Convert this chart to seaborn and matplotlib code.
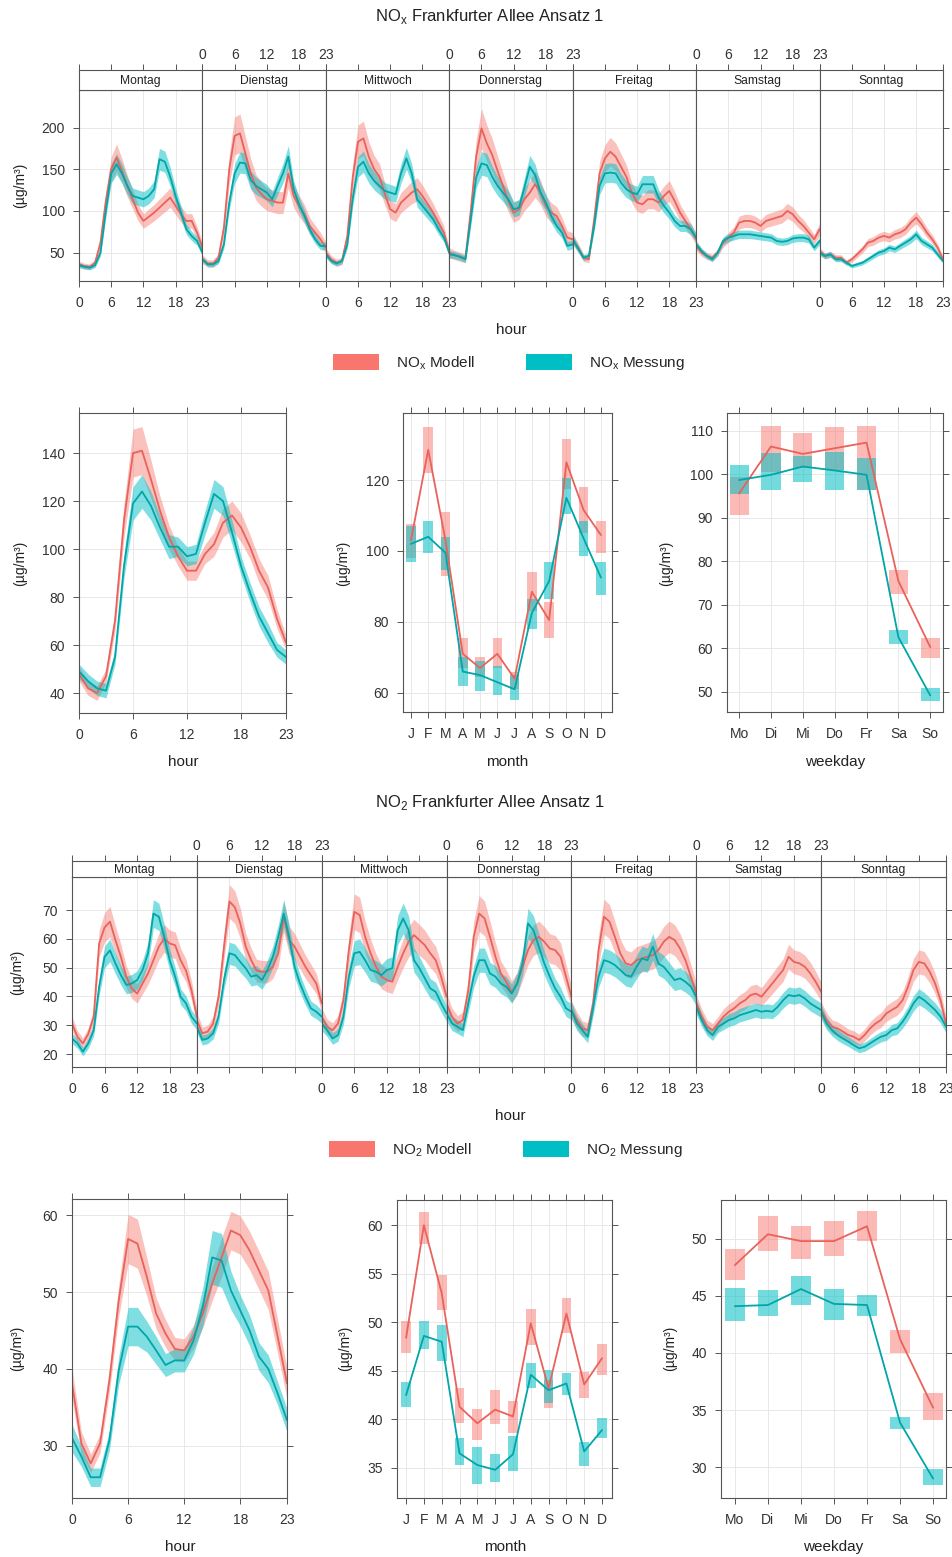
import numpy as np
import pandas as pd
import matplotlib
matplotlib.use("Agg")
import matplotlib.pyplot as plt
from matplotlib.patches import Patch
import seaborn as sns

# ----------------------------------------------------------------
# data
# ----------------------------------------------------------------
hours = list(range(24))
day_names = ["Montag", "Dienstag", "Mittwoch", "Donnerstag", "Freitag", "Samstag", "Sonntag"]
month_labels = ["J", "F", "M", "A", "M", "J", "J", "A", "S", "O", "N", "D"]
weekday_labels = ["Mo", "Di", "Mi", "Do", "Fr", "Sa", "So"]

# NOx, hour of day for each weekday (Mo..So)
nox_week_mod = [
    [36, 34, 33, 38, 62, 112, 150, 164, 148, 130, 114, 98, 88, 93, 98, 104, 110, 116, 106, 96, 88, 88, 74, 56],
    [42, 37, 37, 44, 80, 150, 190, 193, 169, 145, 128, 120, 114, 112, 110, 110, 145, 118, 106, 96, 82, 74, 66, 56],
    [50, 42, 38, 40, 70, 140, 183, 187, 165, 150, 141, 120, 102, 98, 110, 116, 122, 126, 118, 108, 98, 86, 74, 50],
    [50, 47, 45, 43, 100, 165, 199, 181, 167, 148, 130, 112, 98, 102, 114, 122, 132, 122, 106, 98, 94, 82, 68, 66],
    [66, 56, 44, 42, 90, 145, 163, 171, 165, 153, 141, 122, 110, 108, 114, 114, 110, 118, 124, 112, 98, 88, 78, 66],
    [58, 50, 46, 44, 50, 62, 68, 74, 86, 88, 88, 86, 82, 88, 90, 92, 94, 100, 96, 88, 82, 74, 66, 78],
    [52, 46, 48, 44, 44, 38, 42, 48, 54, 62, 64, 68, 70, 68, 72, 74, 78, 86, 92, 84, 74, 66, 56, 42],
]
nox_week_mes = [
    [35, 33, 32, 35, 50, 100, 145, 156, 145, 130, 118, 116, 114, 118, 126, 162, 159, 141, 118, 98, 78, 70, 64, 50],
    [42, 36, 36, 40, 60, 110, 145, 158, 157, 137, 130, 126, 122, 114, 130, 145, 165, 126, 108, 94, 78, 66, 58, 58],
    [48, 40, 37, 40, 60, 115, 153, 159, 145, 136, 130, 124, 122, 120, 145, 163, 145, 114, 106, 98, 90, 78, 68, 50],
    [48, 47, 45, 42, 90, 140, 157, 155, 141, 130, 122, 114, 102, 104, 128, 153, 143, 122, 110, 94, 82, 74, 58, 60],
    [66, 55, 44, 46, 82, 130, 145, 146, 145, 134, 126, 122, 120, 132, 132, 132, 116, 106, 98, 88, 82, 82, 78, 68],
    [60, 52, 46, 42, 50, 64, 68, 70, 72, 72, 72, 71, 70, 69, 68, 64, 63, 64, 67, 68, 68, 66, 56, 64],
    [50, 46, 48, 42, 42, 38, 34, 36, 38, 42, 46, 50, 52, 56, 54, 58, 62, 66, 72, 64, 60, 56, 48, 40],
]
# relative half width of the confidence band, per day
nox_week_band_mod = [0.10, 0.12, 0.11, 0.12, 0.10, 0.09, 0.08]
nox_week_band_mes = [0.08, 0.08, 0.08, 0.09, 0.08, 0.07, 0.07]

# NO2, hour of day for each weekday
no2_week_mod = [
    [30.6, 26.0, 23.7, 27.0, 33.0, 58.4, 64.0, 66.0, 59.6, 53.8, 46.9, 42.8, 41.0, 44.5, 48.0, 52.6, 57.3, 60.2, 58.4, 57.8, 52.6, 49.0, 42.2, 33.0],
    [31.8, 27.2, 27.8, 30.6, 39.9, 57.3, 73.0, 71.0, 65.4, 57.3, 52.6, 49.0, 48.6, 48.6, 50.3, 55.0, 67.7, 59.6, 57.3, 53.8, 50.3, 47.4, 44.5, 37.6],
    [33.0, 29.5, 28.3, 30.6, 38.7, 56.1, 69.4, 68.3, 60.7, 55.0, 50.3, 46.9, 45.7, 45.1, 50.3, 55.0, 59.0, 61.3, 59.6, 57.8, 55.0, 52.6, 46.9, 39.9],
    [37.6, 33.0, 30.6, 31.8, 42.2, 60.7, 68.8, 67.1, 60.7, 53.8, 48.0, 45.1, 41.6, 44.5, 50.3, 56.1, 59.6, 60.7, 59.0, 56.7, 56.1, 53.8, 46.9, 39.9],
    [35.3, 31.8, 28.9, 28.3, 37.6, 56.1, 67.7, 66.0, 60.7, 55.0, 51.5, 50.9, 52.6, 53.2, 53.8, 54.4, 56.1, 59.0, 60.7, 59.6, 56.7, 52.6, 46.9, 41.0],
    [37.6, 33.0, 29.5, 28.3, 30.6, 33.0, 34.7, 35.9, 37.6, 38.7, 40.5, 41.0, 39.9, 42.2, 44.5, 46.9, 49.2, 53.8, 52.0, 51.5, 50.3, 48.0, 45.1, 41.6],
    [35.3, 31.8, 29.5, 28.9, 27.8, 26.6, 26.0, 24.9, 26.6, 28.9, 30.6, 31.8, 34.1, 35.3, 36.4, 38.7, 43.4, 49.2, 52.0, 51.5, 48.6, 44.5, 38.7, 30.6],
]
no2_week_mes = [
    [25.4, 23.7, 20.8, 23.7, 28.3, 43.4, 53.8, 56.0, 51.5, 47.4, 44.0, 44.5, 45.7, 49.2, 55.0, 68.8, 67.7, 60.7, 52.6, 46.9, 39.9, 37.6, 33.0, 30.6],
    [29.5, 24.9, 25.4, 27.2, 33.0, 45.7, 55.0, 54.4, 52.0, 49.8, 46.9, 47.4, 45.7, 49.2, 53.8, 60.7, 68.8, 60.7, 50.3, 44.5, 39.9, 35.9, 34.7, 33.0],
    [30.6, 28.3, 25.4, 26.6, 33.0, 46.9, 55.0, 55.5, 52.6, 49.2, 48.6, 47.4, 49.2, 49.8, 63.0, 67.1, 63.0, 52.6, 49.8, 46.3, 42.8, 41.6, 37.6, 34.1],
    [34.1, 30.6, 29.5, 28.3, 37.6, 46.9, 52.6, 52.6, 48.0, 46.9, 44.5, 43.4, 41.0, 44.5, 51.5, 65.4, 63.0, 57.3, 51.5, 46.9, 42.8, 39.9, 35.9, 34.7],
    [35.3, 30.6, 28.3, 26.0, 36.4, 46.9, 52.6, 52.0, 50.9, 49.2, 47.4, 46.9, 50.3, 53.2, 52.6, 57.3, 51.5, 50.3, 48.0, 45.7, 46.3, 45.1, 43.4, 39.9],
    [36.4, 31.8, 28.3, 26.6, 29.5, 30.6, 31.8, 32.4, 33.5, 34.1, 34.7, 35.3, 34.7, 35.0, 34.7, 36.4, 38.7, 40.5, 40.1, 40.5, 39.3, 37.6, 36.4, 35.3],
    [34.7, 30.6, 28.3, 26.6, 25.4, 24.3, 23.1, 22.0, 22.5, 23.7, 24.9, 26.0, 26.6, 28.3, 28.9, 31.2, 34.1, 37.6, 39.9, 38.7, 37.0, 35.3, 33.0, 29.5],
]
no2_week_band_mod = [0.08, 0.08, 0.09, 0.09, 0.09, 0.08, 0.08]
no2_week_band_mes = [0.07, 0.07, 0.08, 0.08, 0.08, 0.07, 0.07]

# NOx, mean diurnal cycle
nox_hour_mod = [48, 42, 40, 47, 70, 112, 140, 141, 129, 116, 105, 97, 91, 91, 98, 102, 111, 114, 109, 101, 91, 84, 71, 61]
nox_hour_mod_ci = [3, 3, 3, 3, 4, 7, 10, 10, 8, 6, 5, 4, 4, 4, 4, 5, 6, 6, 6, 5, 5, 5, 4, 3]
nox_hour_mes = [49, 45, 42, 41, 55, 93, 119, 124, 118, 109, 101, 101, 97, 98, 111, 123, 120, 107, 93, 82, 72, 65, 58, 55]
nox_hour_mes_ci = [3, 3, 3, 3, 3, 5, 7, 7, 6, 5, 5, 4, 4, 4, 5, 6, 6, 5, 4, 4, 4, 4, 3, 3]

# NO2, mean diurnal cycle
no2_hour_mod = [38.1, 30.3, 27.7, 30.3, 38.5, 48.9, 56.9, 56.3, 52.0, 47.2, 44.6, 42.6, 42.4, 44.2, 47.2, 51.1, 54.5, 58.0, 57.4, 55.4, 52.8, 50.2, 44.2, 38.1]
no2_hour_mod_ci = [2, 1.5, 1.2, 1.2, 1.5, 2, 3.2, 3.2, 2.5, 2, 1.8, 1.5, 1.5, 1.5, 1.8, 2.2, 2.5, 2.5, 2.5, 2.5, 2.5, 2.5, 2.2, 2]
no2_hour_mes = [31.0, 28.6, 25.9, 25.9, 30.7, 39.8, 45.5, 45.5, 44.2, 42.4, 40.5, 41.1, 41.1, 43.7, 48.1, 54.5, 54.1, 50.2, 47.6, 45.0, 41.6, 40.0, 36.8, 33.3]
no2_hour_mes_ci = [1.8, 1.3, 1.2, 1.2, 1.3, 1.8, 2.5, 2.5, 2, 1.8, 1.5, 1.5, 1.5, 1.8, 2.5, 3.5, 3.5, 2.5, 2, 2, 1.8, 1.8, 1.5, 1.5]

# NOx, month
nox_mon_mod = [103, 128.5, 103, 71, 67, 71, 64, 88.5, 80.5, 125, 111.5, 104.5]
nox_mon_mod_lo = [98, 122, 93, 67, 64.5, 67, 61, 83, 75.5, 117.5, 105, 99.5]
nox_mon_mod_hi = [107.5, 135, 111, 75.5, 70, 75.5, 66, 94, 85.5, 131.5, 118, 108.5]
nox_mon_mes = [102, 104, 99.5, 66, 65, 63, 61, 82.5, 91.5, 115, 103.5, 92.5]
nox_mon_mes_lo = [97, 99.5, 94.5, 62, 60.5, 59.5, 58, 78, 86.5, 110.5, 98.5, 87.5]
nox_mon_mes_hi = [107, 108.5, 104, 70, 69, 67.5, 65, 86.5, 97, 120.5, 108.5, 97]

# NOx, weekday
nox_wd_mod = [95.6, 106.4, 104.7, 106, 107.3, 75.5, 60.3]
nox_wd_mod_lo = [90.7, 100.6, 101.4, 101, 96.4, 72.6, 57.7]
nox_wd_mod_hi = [99.5, 111, 109.6, 110.8, 111, 78, 62.5]
nox_wd_mes = [98.7, 99.9, 101.8, 100.9, 99.9, 62.6, 49.2]
nox_wd_mes_lo = [95.6, 96.3, 98.3, 96.4, 96.4, 61.1, 47.9]
nox_wd_mes_hi = [102.2, 104.9, 104.2, 105.2, 103.7, 64.2, 50.8]

# NO2, month
no2_mon_mod = [48.4, 60, 53, 41.3, 39.6, 41, 40.3, 49.9, 43.2, 50.9, 43.6, 46.3]
no2_mon_mod_lo = [46.8, 58.1, 51.3, 39.6, 37.9, 39.5, 38.6, 47.7, 41.2, 48.9, 42.2, 44.6]
no2_mon_mod_hi = [50.1, 61.4, 54.9, 43.2, 41.1, 43, 41.9, 51.4, 44.1, 52.5, 44.9, 47.8]
no2_mon_mes = [42.5, 48.6, 48, 36.5, 35.3, 34.8, 36.4, 44.6, 43, 43.7, 36.7, 38.9]
no2_mon_mes_lo = [41.3, 47.2, 46, 35.3, 33.3, 33.5, 34.7, 43.2, 41.7, 42.5, 35.2, 38.1]
no2_mon_mes_hi = [43.8, 50.1, 49.7, 38.1, 37.2, 36.4, 38.3, 45.8, 45.1, 44.8, 37.7, 40.1]

# NO2, weekday
no2_wd_mod = [47.7, 50.4, 49.8, 49.8, 51.1, 41.2, 35.2]
no2_wd_mod_lo = [46.4, 48.9, 48.2, 48.5, 49.8, 40, 34.1]
no2_wd_mod_hi = [49.1, 52, 51.1, 51.6, 52.4, 42, 36.5]
no2_wd_mes = [44.1, 44.2, 45.6, 44.3, 44.2, 33.9, 29]
no2_wd_mes_lo = [42.8, 43.2, 44.2, 42.9, 43.2, 33.3, 28.4]
no2_wd_mes_hi = [45.7, 45.5, 46.7, 45.6, 45.1, 34.4, 29.8]

# ----------------------------------------------------------------
# style
# ----------------------------------------------------------------
sns.set_theme(style="white")
plt.rcParams["font.family"] = ["Liberation Sans", "DejaVu Sans"]

W, H = 952, 1557
RED, TEAL = "#F8766D", "#00BFC4"
RED_LINE, TEAL_LINE = "#E9625B", "#00A6A8"
EDGE, GRID, TXT = "#555555", "#E8E8E8", "#333333"
UNIT = "(µg/m³)"
TICK_FS = 10

fig = plt.figure(figsize=(W / 100, H / 100), dpi=100)


def frac(l, t, r, b):
    # pixel box -> figure fraction
    return [l / W, 1 - b / H, (r - l) / W, (b - t) / H]


def style_axes(ax):
    for s in ax.spines.values():
        s.set_color(EDGE)
        s.set_linewidth(0.8)
    ax.tick_params(direction="out", length=4, width=0.7, color=EDGE,
                   labelsize=TICK_FS, labelcolor=TXT)
    ax.tick_params(axis="x", pad=7)
    ax.tick_params(axis="y", pad=6)
    ax.grid(True, color=GRID, linewidth=0.7)
    ax.set_axisbelow(True)


def draw_line(ax, x, y, color):
    df = pd.DataFrame({"x": x, "y": y})
    sns.lineplot(data=df, x="x", y="y", ax=ax, color=color, linewidth=1.3, errorbar=None)
    ax.set_xlabel("")
    ax.set_ylabel("")


def week_panel(top, bottom, left, right, strip_top, mod, mes, band_mod, band_mes, ylim, yticks):
    span = (right - left) / 7
    for d in range(7):
        l = left + d * span
        r = l + span
        ax = fig.add_axes(frac(l, top, r, bottom))
        style_axes(ax)
        m = np.array(mod[d], dtype=float)
        s = np.array(mes[d], dtype=float)
        ax.fill_between(hours, m * (1 - band_mod[d]), m * (1 + band_mod[d]), color=RED, alpha=0.45, linewidth=0)
        ax.fill_between(hours, s * (1 - band_mes[d]), s * (1 + band_mes[d]), color=TEAL, alpha=0.5, linewidth=0)
        draw_line(ax, hours, m, RED_LINE)
        draw_line(ax, hours, s, TEAL_LINE)
        ax.set_xlim(0, 23)
        ax.set_ylim(*ylim)
        ax.set_xticks([0, 6, 12, 18, 23])
        ax.set_yticks(yticks)
        ax.tick_params(axis="x", bottom=True, top=False, labelbottom=(d % 2 == 0))
        ax.tick_params(axis="y", left=(d == 0), labelleft=(d == 0), right=(d == 6), labelright=False)
        if d == 6:
            ax.yaxis.set_ticks_position("right")
            ax.tick_params(axis="y", labelright=False)

        st = fig.add_axes(frac(l, strip_top, r, top))
        for sp in st.spines.values():
            sp.set_color(EDGE)
            sp.set_linewidth(0.8)
        st.set_xlim(0, 23)
        st.set_ylim(0, 1)
        st.set_yticks([])
        st.set_xticks([0, 6, 12, 18, 23])
        st.xaxis.set_ticks_position("top")
        st.tick_params(axis="x", direction="out", length=4, width=0.7, color=EDGE,
                       labelsize=TICK_FS, labelcolor=TXT, pad=2,
                       top=True, bottom=False, labeltop=(d % 2 == 1), labelbottom=False)
        st.text(11.5, 0.45, day_names[d], ha="center", va="center", fontsize=8.7, color="#222222")


def hour_panel(box, mod, mod_ci, mes, mes_ci, ylim, yticks):
    ax = fig.add_axes(frac(*box))
    style_axes(ax)
    m = np.array(mod, dtype=float)
    s = np.array(mes, dtype=float)
    ax.fill_between(hours, m - np.array(mod_ci), m + np.array(mod_ci), color=RED, alpha=0.45, linewidth=0)
    ax.fill_between(hours, s - np.array(mes_ci), s + np.array(mes_ci), color=TEAL, alpha=0.5, linewidth=0)
    draw_line(ax, hours, m, RED_LINE)
    draw_line(ax, hours, s, TEAL_LINE)
    ax.set_xlim(0, 23)
    ax.set_ylim(*ylim)
    ax.set_xticks([0, 6, 12, 18, 23])
    ax.set_yticks(yticks)
    ax.tick_params(top=True, right=True, bottom=True, left=True, labeltop=False, labelright=False)
    return ax


def cat_panel(box, labels, mod, mod_lo, mod_hi, mes, mes_lo, mes_hi, width, xlim, ylim, yticks):
    ax = fig.add_axes(frac(*box))
    style_axes(ax)
    x = list(range(1, len(labels) + 1))
    ax.bar(x, np.array(mod_hi) - np.array(mod_lo), bottom=mod_lo, width=width, color=RED, alpha=0.5, linewidth=0)
    ax.bar(x, np.array(mes_hi) - np.array(mes_lo), bottom=mes_lo, width=width, color=TEAL, alpha=0.55, linewidth=0)
    draw_line(ax, x, mod, RED_LINE)
    draw_line(ax, x, mes, TEAL_LINE)
    ax.set_xlim(*xlim)
    ax.set_ylim(*ylim)
    ax.set_xticks(x)
    ax.set_xticklabels(labels)
    ax.set_yticks(yticks)
    ax.tick_params(top=True, right=True, bottom=True, left=True, labeltop=False, labelright=False)
    return ax


def ftext(x, y, s, **kw):
    kw.setdefault("color", "#222222")
    fig.text(x / W, 1 - y / H, s, ha="center", va="center", **kw)


def legend(cx, cy, name):
    handles = [Patch(facecolor=RED, edgecolor="none"), Patch(facecolor=TEAL, edgecolor="none")]
    labels = [name + " Modell", name + " Messung"]
    fig.legend(handles, labels, loc="center", bbox_to_anchor=(cx / W, 1 - cy / H), ncol=2,
               frameon=False, fontsize=11, handlelength=3.0, handleheight=1.2,
               handletextpad=1.1, columnspacing=3.4)


# ----------------------------------------------------------------
# NOx block
# ----------------------------------------------------------------
NOX = r"NO$_\mathregular{x}$"
NO2 = r"NO$_\mathregular{2}$"

ftext(490, 17, NOX + " Frankfurter Allee Ansatz 1", fontsize=12)
week_panel(90, 281, 79, 943, 70, nox_week_mod, nox_week_mes, nox_week_band_mod, nox_week_band_mes,
           (16, 245), [50, 100, 150, 200])
ftext(20, 185, UNIT, fontsize=10, rotation=90)
ftext(511, 330, "hour", fontsize=11)
legend(509, 363, NOX)

hour_panel((79, 413, 286, 713), nox_hour_mod, nox_hour_mod_ci, nox_hour_mes, nox_hour_mes_ci,
           (31.7, 156.7), [40, 60, 80, 100, 120, 140])
cat_panel((403, 413, 612, 712), month_labels, nox_mon_mod, nox_mon_mod_lo, nox_mon_mod_hi,
          nox_mon_mes, nox_mon_mes_lo, nox_mon_mes_hi, 0.55, (0.54, 12.64), (54.6, 138.9), [60, 80, 100, 120])
cat_panel((727, 413, 943, 712), weekday_labels, nox_wd_mod, nox_wd_mod_lo, nox_wd_mod_hi,
          nox_wd_mes, nox_wd_mes_lo, nox_wd_mes_hi, 0.6, (0.62, 7.4), (45.4, 114.1),
          [50, 60, 70, 80, 90, 100, 110])
ftext(20, 563, UNIT, fontsize=10, rotation=90)
ftext(343, 563, UNIT, fontsize=10, rotation=90)
ftext(666, 563, UNIT, fontsize=10, rotation=90)
ftext(183, 762, "hour", fontsize=11)
ftext(507, 762, "month", fontsize=11)
ftext(835, 762, "weekday", fontsize=11)

# ----------------------------------------------------------------
# NO2 block
# ----------------------------------------------------------------
ftext(490, 803, NO2 + " Frankfurter Allee Ansatz 1", fontsize=12)
week_panel(877, 1067, 72, 946, 861, no2_week_mod, no2_week_mes, no2_week_band_mod, no2_week_band_mes,
           (15.5, 81.5), [20, 30, 40, 50, 60, 70])
ftext(17, 972, UNIT, fontsize=10, rotation=90)
ftext(510, 1116, "hour", fontsize=11)
legend(506, 1150, NO2)

hour_panel((72, 1199, 287, 1498), no2_hour_mod, no2_hour_mod_ci, no2_hour_mes, no2_hour_mes_ci,
           (23.2, 62.1), [30, 40, 50, 60])
cat_panel((397, 1200, 612, 1498), month_labels, no2_mon_mod, no2_mon_mod_lo, no2_mon_mod_hi,
          no2_mon_mes, no2_mon_mes_lo, no2_mon_mes_hi, 0.55, (0.49, 12.56), (31.9, 62.6),
          [35, 40, 45, 50, 55, 60])
cat_panel((721, 1200, 946, 1498), weekday_labels, no2_wd_mod, no2_wd_mod_lo, no2_wd_mod_hi,
          no2_wd_mes, no2_wd_mes_lo, no2_wd_mes_hi, 0.6, (0.58, 7.39), (27.3, 53.4),
          [30, 35, 40, 45, 50])
ftext(17, 1348, UNIT, fontsize=10, rotation=90)
ftext(345, 1348, UNIT, fontsize=10, rotation=90)
ftext(670, 1348, UNIT, fontsize=10, rotation=90)
ftext(180, 1547, "hour", fontsize=11)
ftext(505, 1547, "month", fontsize=11)
ftext(833, 1547, "weekday", fontsize=11)

fig.savefig("out.png", dpi=100, facecolor="white")
plt.close(fig)
